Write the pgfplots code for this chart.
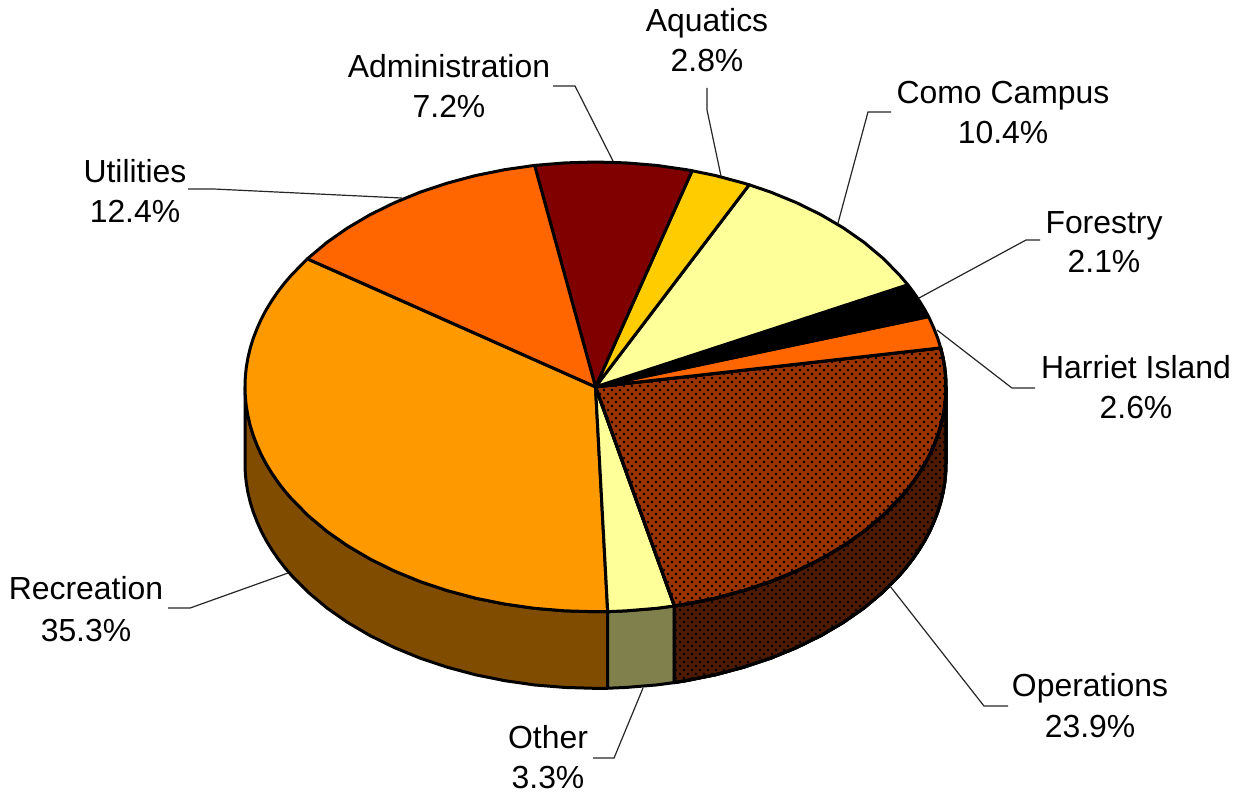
\documentclass[border=0pt]{standalone}
\usepackage{pgfplots}
\pgfplotsset{compat=1.18}
\usepackage{fontspec}
\setmainfont{Liberation Sans}
\usetikzlibrary{patterns}
\pgfdeclarepatternformonly{piedots}{\pgfqpoint{-1pt}{-1pt}}{\pgfqpoint{3pt}{3pt}}{\pgfqpoint{4pt}{4pt}}{%
  \pgfpathcircle{\pgfqpoint{0pt}{0pt}}{0.65pt}\pgfusepath{fill}}
\pgfdeclarepatternformonly{piedotsb}{\pgfqpoint{1pt}{1pt}}{\pgfqpoint{3pt}{3pt}}{\pgfqpoint{4pt}{4pt}}{%
  \pgfpathcircle{\pgfqpoint{2pt}{2pt}}{0.65pt}\pgfusepath{fill}}
\definecolor{cRec}{HTML}{FF9900}
\definecolor{cRecW}{HTML}{804D00}
\definecolor{cOth}{HTML}{FFFF99}
\definecolor{cOthW}{HTML}{80804D}
\definecolor{cOps}{HTML}{993300}
\definecolor{cOpsW}{HTML}{4D1A00}
\definecolor{cUti}{HTML}{FF6600}
\definecolor{cAdm}{HTML}{800000}
\definecolor{cAqu}{HTML}{FFCC00}
\tikzset{slice/.style={draw=black,line width=1.5pt,line join=round},
 lead/.style={draw=black!85,line width=0.6pt,line join=miter},
 lab/.style={font=\fontsize{15.95pt}{18pt}\selectfont,anchor=base,inner sep=0pt,text=black},
 dotted fill/.style={postaction={pattern=piedots,pattern color=black},postaction={pattern=piedotsb,pattern color=black}}}
\newcommand{\lbl}[5]{\node[lab] at (axis cs:#1,#2) {#3}; \node[lab] at (axis cs:#1,#4) {#5};}
\begin{document}
\begin{tikzpicture}
\begin{axis}[scale only axis,width=621.5pt,height=397pt,xmin=0,xmax=1243,ymin=-2.83,ymax=795.2,y dir=reverse,hide axis,clip=false]
\path (axis cs:0,-2.83) -- (axis cs:1243,795.2);
% side walls
\addplot[slice,fill=cRecW] coordinates {(245,386)(245.3,395.9)(246.3,405.7)(248,415.5)(250.3,425.2)(253.3,434.9)(257,444.5)(261.2,454)(266.1,463.3)(271.7,472.5)(277.8,481.5)(284.6,490.4)(292,499)(308.4,515.6)(327,531.3)(347.7,545.8)(370.2,559.1)(394.5,571.1)(420.2,581.7)(447.4,590.8)(475.6,598.4)(504.8,604.3)(534.6,608.6)(564.9,611.1)(595.5,612)(607.7,611.9)(607.7,688.9)(595.5,689)(564.9,688.1)(534.6,685.6)(504.8,681.3)(475.6,675.4)(447.4,667.8)(420.2,658.7)(394.5,648.1)(370.2,636.1)(347.7,622.8)(327,608.3)(308.4,592.6)(292,576)(284.6,567.4)(277.8,558.5)(271.7,549.5)(266.1,540.3)(261.2,531)(257,521.5)(253.3,511.9)(250.3,502.2)(248,492.5)(246.3,482.7)(245.3,472.9)(245,463)} --cycle;
\addplot[slice,fill=cOthW] coordinates {(607.7,611.9)(626.1,611.1)(656.4,608.6)(674.4,606.2)(674.4,683.2)(656.4,685.6)(626.1,688.1)(607.7,688.9)} --cycle;
\addplot[slice,fill=cOpsW,dotted fill] coordinates {(674.4,606.2)(686.2,604.3)(715.4,598.4)(743.6,590.8)(770.8,581.7)(796.5,571.1)(820.8,559.1)(843.3,545.8)(864,531.3)(882.6,515.6)(899,499)(906.4,490.4)(913.2,481.5)(919.3,472.5)(924.9,463.3)(929.8,454)(934,444.5)(937.7,434.9)(940.7,425.2)(943,415.5)(944.7,405.7)(945.7,395.9)(946,386)(946,463)(945.7,472.9)(944.7,482.7)(943,492.5)(940.7,502.2)(937.7,511.9)(934,521.5)(929.8,531)(924.9,540.3)(919.3,549.5)(913.2,558.5)(906.4,567.4)(899,576)(882.6,592.6)(864,608.3)(843.3,622.8)(820.8,636.1)(796.5,648.1)(770.8,658.7)(743.6,667.8)(715.4,675.4)(686.2,681.3)(674.4,683.2)} --cycle;
% top face
\addplot[slice,fill=cRec] coordinates {(595.5,386)(307.4,257.3)(292,273)(284.6,281.6)(277.8,290.5)(271.7,299.5)(266.1,308.7)(261.2,318)(257,327.5)(253.3,337.1)(250.3,346.8)(248,356.5)(246.3,366.3)(245.3,376.1)(245,386)(245.3,395.9)(246.3,405.7)(248,415.5)(250.3,425.2)(253.3,434.9)(257,444.5)(261.2,454)(266.1,463.3)(271.7,472.5)(277.8,481.5)(284.6,490.4)(292,499)(308.4,515.6)(327,531.3)(347.7,545.8)(370.2,559.1)(394.5,571.1)(420.2,581.7)(447.4,590.8)(475.6,598.4)(504.8,604.3)(534.6,608.6)(564.9,611.1)(595.5,612)(607.7,611.9)} --cycle;
\addplot[slice,fill=cOth] coordinates {(595.5,386)(607.7,611.9)(626.1,611.1)(656.4,608.6)(674.4,606.2)} --cycle;
\addplot[slice,fill=cOps,dotted fill] coordinates {(595.5,386)(674.4,606.2)(686.2,604.3)(715.4,598.4)(743.6,590.8)(770.8,581.7)(796.5,571.1)(820.8,559.1)(843.3,545.8)(864,531.3)(882.6,515.6)(899,499)(906.4,490.4)(913.2,481.5)(919.3,472.5)(924.9,463.3)(929.8,454)(934,444.5)(937.7,434.9)(940.7,425.2)(943,415.5)(944.7,405.7)(945.7,395.9)(946,386)(945.7,376.1)(944.7,366.3)(943,356.5)(940.7,346.8)} --cycle;
\addplot[slice,fill=cUti] coordinates {(595.5,386)(940.7,346.8)(937.7,337.1)(934,327.5)(929.8,318)(928.5,315.4)} --cycle;
\addplot[slice,fill=black] coordinates {(595.5,386)(928.5,315.4)(924.9,308.7)(919.3,299.5)(913.2,290.5)(907.8,283.4)} --cycle;
\addplot[slice,fill=cOth] coordinates {(595.5,386)(907.8,283.4)(899,273)(882.6,256.4)(864,240.7)(843.3,226.2)(820.8,212.9)(796.5,200.9)(770.8,190.3)(749.2,182.9)} --cycle;
\addplot[slice,fill=cAqu] coordinates {(595.5,386)(749.2,182.9)(743.6,181.2)(715.4,173.6)(692.1,168.8)} --cycle;
\addplot[slice,fill=cAdm] coordinates {(595.5,386)(692.1,168.8)(686.2,167.7)(656.4,163.4)(626.1,160.9)(595.5,160)(564.9,160.9)(534.6,163.4)} --cycle;
\addplot[slice,fill=cUti] coordinates {(595.5,386)(534.6,163.4)(504.8,167.7)(475.6,173.6)(447.4,181.2)(420.2,190.3)(394.5,200.9)(370.2,212.9)(347.7,226.2)(327,240.7)(307.4,257.3)} --cycle;
% leaders
\addplot[lead] coordinates {(707,85.6)(707,107.7)(721,174.1)};
\addplot[lead] coordinates {(553,83.6)(575,83.6)(613,159)};
\addplot[lead] coordinates {(891,109.7)(868,109.7)(838,221.3)};
\addplot[lead] coordinates {(1040,238.4)(1026,238.4)(919,296.7)};
\addplot[lead] coordinates {(937,328.9)(1012,387.2)(1035,387.2)};
\addplot[lead] coordinates {(890,586.2)(984,706.8)(1008,706.8)};
\addplot[lead] coordinates {(593,759.1)(614,759.1)(643,688.7)};
\addplot[lead] coordinates {(168,608.3)(190,608.3)(288,573.1)};
\addplot[lead] coordinates {(188,187.1)(213,187.1)(402,196.2)};
% labels
\lbl{707}{29.3}{Aquatics}{69.5}{2.8\%}
\lbl{449}{74.6}{Administration}{114.8}{7.2\%}
\lbl{1003}{100.7}{Como Campus}{140.9}{10.4\%}
\lbl{1104}{231.4}{Forestry}{270.6}{2.1\%}
\lbl{1136}{377.1}{Harriet Island}{417.3}{2.6\%}
\lbl{1090}{696.7}{Operations}{737.9}{23.9\%}
\lbl{548}{749}{Other}{789.2}{3.3\%}
\lbl{86}{600.2}{Recreation}{641.5}{35.3\%}
\lbl{135}{180.1}{Utilities}{220.3}{12.4\%}
\end{axis}
\end{tikzpicture}
\end{document}
